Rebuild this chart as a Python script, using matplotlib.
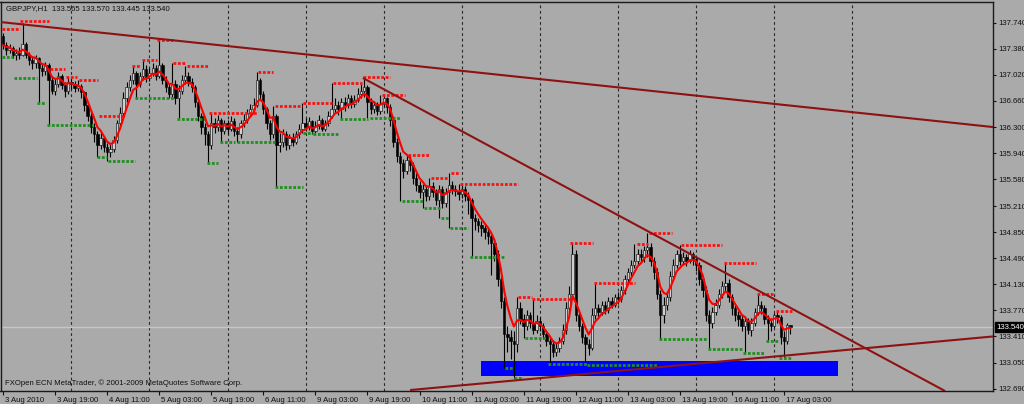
import numpy as np
import pandas as pd
import matplotlib
matplotlib.use("Agg")
import matplotlib.pyplot as plt
from matplotlib.patches import Rectangle
from matplotlib import transforms

plt.rcParams['font.family'] = ['Liberation Sans', 'DejaVu Sans']

# GBPJPY H1, 3 Aug 2010 03:00 .. 17 Aug 2010 05:00 (bar index = hour bar)
first_open = 137.55
closes = [
    137.43, 137.36, 137.39, 137.29, 137.32, 137.30, 137.44, 137.30, 137.22, 137.18,
    137.25, 137.12, 137.08, 137.15, 136.95, 136.80, 136.90, 137.00, 136.88, 136.80,
    136.92, 136.90, 136.84, 136.86, 136.78, 136.60, 136.45, 136.30, 136.20, 136.05,
    136.15, 136.02, 135.95, 136.00, 136.12, 136.35, 136.50, 136.70, 136.85, 136.95,
    137.05, 136.90, 137.00, 137.10, 136.98, 137.05, 137.12, 137.00, 137.15, 136.95,
    136.85, 136.75, 136.90, 136.70, 136.80, 136.95, 137.00, 136.92, 136.85, 136.65,
    136.45, 136.30, 136.20, 136.05, 136.35, 136.30, 136.40, 136.25, 136.35, 136.28,
    136.38, 136.25, 136.20, 136.35, 136.40, 136.50, 136.55, 136.60, 136.95, 136.75,
    136.55, 136.35, 136.20, 136.45, 136.05, 136.10, 136.20, 136.05, 136.15, 136.10,
    136.20, 136.28, 136.35, 136.30, 136.38, 136.25, 136.32, 136.40, 136.28, 136.35,
    136.45, 136.55, 136.60, 136.55, 136.65, 136.60, 136.70, 136.62, 136.68, 136.75,
    136.80, 136.85, 136.65, 136.55, 136.60, 136.52, 136.62, 136.70, 136.58, 136.40,
    136.10, 135.90, 135.80, 135.70, 135.85, 135.78, 135.60, 135.50, 135.40, 135.45,
    135.35, 135.48, 135.40, 135.30, 135.45, 135.25, 135.40, 135.50, 135.45, 135.42,
    135.38, 135.45, 135.35, 135.30, 135.05, 135.00, 134.95, 134.90, 134.85, 134.80,
    134.70, 134.55, 134.20, 133.90, 133.45, 133.40, 133.35, 133.30, 133.80, 133.65,
    133.55, 133.70, 133.60, 133.50, 133.62, 133.55, 133.45, 133.35, 133.30, 133.20,
    133.25, 133.35, 133.50, 133.80, 134.00, 134.55, 133.70, 133.55, 133.40, 133.30,
    133.25, 133.70, 133.80, 133.75, 133.85, 133.78, 133.90, 133.85, 133.95, 133.92,
    134.05, 134.20, 134.30, 134.40, 134.45, 134.55, 134.50, 134.60, 134.65, 134.45,
    134.30, 134.00, 133.70, 133.85, 133.95, 134.25, 134.40, 134.55, 134.45, 134.50,
    134.45, 134.55, 134.48, 134.40, 134.20, 134.05, 133.70, 133.60, 133.75, 133.85,
    134.00, 134.10, 134.15, 133.95, 133.80, 133.70, 133.65, 133.55, 133.62, 133.50,
    133.60, 133.75, 133.85, 133.80, 133.65, 133.60, 133.55, 133.70, 133.68, 133.40,
    133.35, 133.565, 133.54,
]
highs = [
    137.60, 137.47, 137.45, 137.42, 137.38, 137.40, 137.74, 137.48, 137.33, 137.28,
    137.30, 137.27, 137.18, 137.20, 137.18, 137.00, 136.98, 137.06, 137.03, 136.92,
    136.99, 136.97, 136.94, 136.95, 136.90, 136.80, 136.62, 136.50, 136.35, 136.25,
    136.22, 136.18, 136.08, 136.06, 136.18, 136.40, 136.58, 136.78, 136.92, 137.02,
    137.14, 137.08, 137.06, 137.22, 137.15, 137.12, 137.18, 137.16, 137.53, 137.18,
    137.00, 136.90, 137.18, 136.95, 136.88, 137.02, 137.14, 137.06, 136.98, 136.88,
    136.70, 136.50, 136.35, 136.25, 136.50, 136.42, 136.46, 136.42, 136.40, 136.40,
    136.45, 136.42, 136.30, 136.40, 136.48, 136.55, 136.62, 136.70, 137.06, 136.98,
    136.80, 136.58, 136.40, 136.59, 136.48, 136.22, 136.28, 136.24, 136.20, 136.22,
    136.25, 136.34, 136.63, 136.42, 136.44, 136.40, 136.38, 136.46, 136.42, 136.40,
    136.52, 136.91, 136.70, 136.66, 136.70, 136.72, 136.76, 136.74, 136.74, 136.84,
    136.90, 136.99, 136.88, 136.70, 136.66, 136.64, 136.74, 136.74, 136.72, 136.62,
    136.45, 136.15, 135.95, 135.86, 135.92, 135.90, 135.82, 135.66, 135.55, 135.52,
    135.50, 135.60, 135.54, 135.45, 135.50, 135.48, 135.46, 135.67, 135.56, 135.50,
    135.52, 135.50, 135.48, 135.40, 135.32, 135.10, 135.05, 135.00, 134.95, 134.90,
    134.84, 134.75, 134.60, 134.25, 133.95, 133.55, 133.50, 133.48, 133.95, 133.88,
    133.72, 133.78, 133.75, 133.93, 133.70, 133.68, 133.60, 133.50, 133.40, 133.36,
    133.32, 133.40, 133.58, 133.88, 134.10, 134.70, 134.60, 133.75, 133.60, 133.45,
    133.38, 133.80, 134.15, 133.86, 133.90, 133.90, 133.96, 133.96, 134.00, 134.02,
    134.10, 134.26, 134.36, 134.46, 134.69, 134.62, 134.62, 134.66, 134.84, 134.70,
    134.50, 134.35, 134.05, 133.95, 134.02, 134.32, 134.48, 134.60, 134.67, 134.58,
    134.55, 134.60, 134.58, 134.52, 134.44, 134.25, 134.10, 133.78, 133.82, 133.92,
    134.06, 134.18, 134.43, 134.20, 134.00, 133.85, 133.76, 133.70, 133.68, 133.66,
    133.66, 133.80, 133.99, 133.90, 133.84, 133.70, 133.66, 133.74, 133.76, 133.70,
    133.48, 133.60, 133.57,
]
lows = [
    137.38, 137.30, 137.32, 137.25, 137.22, 137.24, 137.28, 137.25, 137.15, 137.10,
    137.12, 136.63, 137.00, 137.02, 136.33, 136.75, 136.74, 136.85, 136.82, 136.72,
    136.76, 136.82, 136.78, 136.80, 136.70, 136.52, 136.38, 136.22, 136.10, 135.89,
    136.00, 135.95, 135.83, 135.88, 135.96, 136.08, 136.30, 136.45, 136.65, 136.80,
    136.90, 136.70, 136.85, 136.95, 136.92, 136.94, 137.00, 136.95, 136.98, 136.90,
    136.78, 136.70, 136.72, 136.62, 136.42, 136.75, 136.90, 136.86, 136.78, 136.58,
    136.38, 136.20, 136.05, 135.80, 136.00, 136.22, 136.25, 136.10, 136.20, 136.20,
    136.24, 136.18, 136.09, 136.15, 136.30, 136.35, 136.45, 136.50, 136.58, 136.68,
    136.48, 136.28, 136.12, 136.15, 135.47, 135.95, 136.02, 135.98, 136.00, 136.04,
    136.06, 136.15, 136.22, 136.24, 136.26, 136.20, 136.22, 136.28, 136.24, 136.25,
    136.32, 136.42, 136.50, 136.47, 136.41, 136.52, 136.56, 136.56, 136.58, 136.64,
    136.70, 136.72, 136.43, 136.48, 136.50, 136.46, 136.48, 136.58, 136.50, 136.32,
    136.02, 135.82, 135.28, 135.60, 135.65, 135.70, 135.52, 135.42, 135.32, 135.18,
    135.28, 135.30, 135.34, 135.22, 135.05, 135.18, 135.20, 134.90, 135.38, 135.35,
    135.30, 135.32, 135.28, 135.10, 134.51, 134.88, 134.85, 134.80, 134.75, 134.68,
    134.26, 134.45, 134.10, 133.80, 132.98, 133.20, 133.10, 132.84, 133.20, 133.58,
    133.39, 133.50, 133.52, 133.45, 133.46, 133.48, 133.38, 133.28, 133.03, 133.12,
    133.14, 133.20, 133.30, 133.45, 133.75, 133.98, 133.62, 133.48, 133.32, 133.02,
    133.15, 133.22, 133.65, 133.68, 133.70, 133.72, 133.74, 133.80, 133.82, 133.86,
    133.88, 134.00, 134.15, 134.25, 134.35, 134.40, 134.42, 134.44, 134.50, 134.38,
    134.20, 133.92, 133.38, 133.60, 133.78, 133.90, 134.20, 134.35, 134.40, 134.40,
    134.38, 134.42, 134.40, 134.32, 134.12, 133.95, 133.62, 133.24, 133.52, 133.70,
    133.80, 133.94, 134.02, 133.88, 133.70, 133.62, 133.55, 133.48, 133.18, 133.44,
    133.42, 133.55, 133.70, 133.72, 133.58, 133.35, 133.48, 133.52, 133.60, 133.30,
    133.11, 133.30, 133.445,
]

# fractal levels: (start bar, end bar, price)
resist_levels = [
    (-0.3, 5.2, 137.65), (5.2, 14.1, 137.76), (14.4, 19.1, 137.10), (19.4, 22.7, 136.99),
    (23.4, 29.2, 136.95), (29.5, 36.9, 136.45), (39.6, 42.1, 137.14), (42.7, 47.3, 137.23),
    (47.3, 52.2, 137.50), (52.2, 56.2, 137.18), (56.5, 63.0, 137.14), (63.3, 78.1, 136.49),
    (78.4, 83.0, 137.06), (83.6, 91.9, 136.59), (92.2, 101.1, 136.63), (101.4, 110.3, 136.91),
    (110.6, 118.9, 136.99), (116.5, 123.5, 136.74), (124.5, 131.2, 135.92), (131.5, 137.1, 135.60),
    (137.7, 140.4, 135.67), (140.4, 158.3, 135.52), (158.3, 162.6, 133.95), (162.6, 174.2, 133.93),
    (174.2, 181.3, 134.70), (181.6, 194.2, 134.15), (194.8, 198.2, 134.69), (198.5, 205.6, 134.84),
    (208.4, 221.0, 134.67), (221.6, 231.4, 134.43), (231.7, 237.2, 133.99), (237.5, 242.5, 133.76),
]
support_levels = [
    (-0.3, 3.1, 137.27), (3.4, 10.4, 136.98), (10.4, 13.2, 136.63), (13.5, 27.7, 136.33),
    (28.9, 32.0, 135.89), (32.3, 40.6, 135.83), (40.6, 52.9, 136.70), (53.5, 62.1, 136.41),
    (62.7, 66.1, 135.80), (66.7, 71.3, 136.10), (71.9, 83.6, 136.09), (83.6, 92.2, 135.47),
    (92.2, 95.3, 136.22), (95.3, 103.0, 136.20), (103.6, 112.2, 136.41), (112.8, 122.0, 136.43),
    (122.6, 129.1, 135.28), (129.4, 134.3, 135.18), (134.6, 137.4, 135.05), (137.4, 142.9, 134.90),
    (143.5, 154.3, 134.51), (154.3, 157.0, 132.98), (157.0, 159.8, 132.84), (160.4, 167.2, 133.39),
    (167.5, 179.5, 133.03), (179.5, 201.3, 133.02), (201.6, 216.4, 133.38), (216.6, 227.1, 133.24),
    (227.4, 234.2, 133.18), (234.5, 238.2, 133.35), (238.5, 242.5, 133.11),
]
# trend lines: (bar1, price1, bar2, price2)
trend_lines = [
    (-0.9, 137.75, 304.3, 136.30),
    (110.6, 136.977, 289.5, 132.657),
    (125.1, 132.67, 304.3, 133.41),
]
zone = (146.9, 256.6, 132.87, 133.07)  # blue box: bar from, bar to, price low, price high
last_price = 133.54

time_labels = ['3 Aug 2010', '3 Aug 19:00', '4 Aug 11:00', '5 Aug 03:00', '5 Aug 19:00',
               '6 Aug 11:00', '9 Aug 03:00', '9 Aug 19:00', '10 Aug 11:00', '11 Aug 03:00',
               '11 Aug 19:00', '12 Aug 11:00', '13 Aug 03:00', '13 Aug 19:00', '16 Aug 11:00',
               '17 Aug 03:00']
time_label_bars = list(range(0, 241, 16))
day_sep_bars = list(range(21, 262, 24))
price_ticks = [137.740, 137.380, 137.020, 136.660, 136.300, 135.940, 135.580, 135.210,
               134.850, 134.490, 134.130, 133.770, 133.410, 133.050, 132.690]

BG = '#aaaaaa'

closes = np.array(closes)
opens = np.r_[first_open, closes[:-1]]
highs = np.maximum(np.array(highs), np.maximum(opens, closes))
lows = np.minimum(np.array(lows), np.minimum(opens, closes))
x = np.arange(len(closes))
ma = pd.Series(closes).ewm(span=5, adjust=False).mean()

fig = plt.figure(figsize=(10.24, 4.04), dpi=100, facecolor=BG)
ax = fig.add_axes([0.5 / 1024, 13 / 404, 992.5 / 1024, 389 / 404])
ax.set_facecolor(BG)
ax.set_xlim(-0.77, 304.24)
ax.set_ylim(132.657, 138.026)

for b in day_sep_bars:
    ax.axvline(b, color='#2a2a2a', lw=0.8, ls=(0, (2.5, 2.5)), zorder=1)
ax.axhline(last_price, color='#c6c6c6', lw=1.0, zorder=1)

ax.add_patch(Rectangle((zone[0], zone[2]), zone[1] - zone[0], zone[3] - zone[2],
                       facecolor='#0000ff', edgecolor='none', zorder=2))

# candles
ax.vlines(x, lows, highs, color='black', lw=0.8, zorder=3)
bull = closes >= opens
body_lo = np.minimum(opens, closes)
body_h = np.maximum(np.abs(closes - opens), 0.006)
ax.bar(x[bull], body_h[bull], bottom=body_lo[bull], width=0.72,
       color='#d0d0d0', edgecolor='black', lw=0.4, zorder=4)
ax.bar(x[~bull], body_h[~bull], bottom=body_lo[~bull], width=0.72,
       color='black', edgecolor='black', lw=0.4, zorder=4)

for s, e, p in resist_levels:
    ax.plot([s, e], [p, p], color='#ff1010', lw=2.0, ls=(0, (1.0, 0.6)), zorder=5)
for s, e, p in support_levels:
    ax.plot([s, e], [p, p], color='#1f8f1f', lw=2.0, ls=(0, (1.0, 0.6)), zorder=5)

ax.plot(x, ma, color='#ff0000', lw=1.5, zorder=6)

for b1, p1, b2, p2 in trend_lines:
    ax.plot([b1, b2], [p1, p2], color='#8e1212', lw=1.5, zorder=7, solid_capstyle='butt')

# axes styling
for sp in ax.spines.values():
    sp.set_color('#1a1a1a')
    sp.set_linewidth(1.0)
ax.yaxis.tick_right()
ax.set_yticks(price_ticks, ['%.3f' % v for v in price_ticks])
ax.tick_params(axis='y', direction='out', length=2, pad=1.5, labelsize=5.6, colors='#111111')
ax.set_xticks(time_label_bars, time_labels)
ax.tick_params(axis='x', direction='out', length=3, pad=1.0, labelsize=5.6, colors='#111111')
off = transforms.ScaledTranslation(2 / 100, 0, fig.dpi_scale_trans)
for lbl in ax.get_xticklabels():
    lbl.set_ha('left')
    lbl.set_transform(lbl.get_transform() + off)

price_tr = transforms.blended_transform_factory(ax.transAxes, ax.transData)
ax.annotate('%.3f' % last_price, xy=(1, last_price), xycoords=price_tr,
            xytext=(3, 0), textcoords='offset pixels', ha='left', va='center',
            fontsize=5.6, color='white', annotation_clip=False,
            bbox=dict(boxstyle='square,pad=0.15', facecolor='black', edgecolor='black'))

fig.text(6 / 1024, 1 - 9 / 404, 'GBPJPY,H1  133.565 133.570 133.445 133.540',
         fontsize=5.6, va='center', ha='left', color='#111111')
fig.text(5 / 1024, 1 - 383 / 404, 'FXOpen ECN MetaTrader, \u00a9 2001-2009 MetaQuotes Software Corp.',
         fontsize=5.6, va='center', ha='left', color='#111111')

fig.savefig('out.png', dpi=100, facecolor=BG)
